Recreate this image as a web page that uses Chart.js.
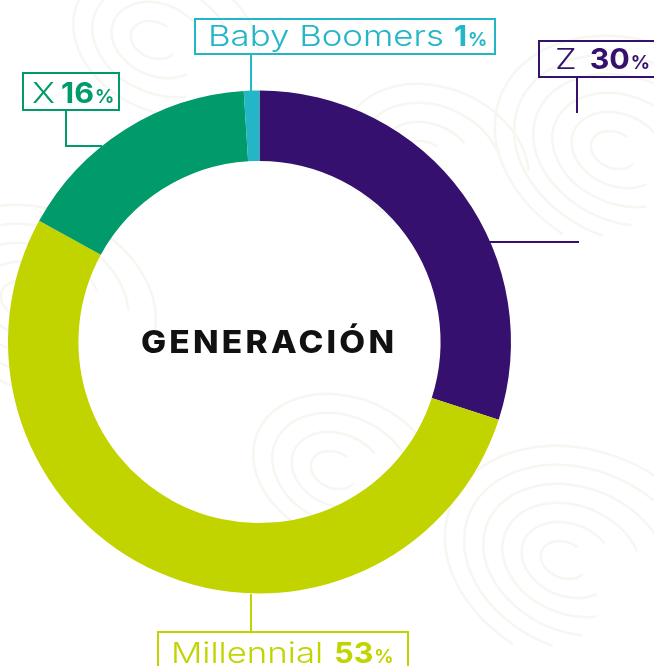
<!DOCTYPE html>
<html>
<head>
<meta charset="utf-8">
<script src="https://cdn.jsdelivr.net/npm/chart.js@4"></script>
<style>
  html, body { margin: 0; padding: 0; background: #fff; }
  #wrap { position: relative; width: 654px; height: 666px; }
</style>
</head>
<body>
<div id="wrap"><canvas id="chart"></canvas></div>
<script>
const labels = ['Z', 'Millennial', 'X', 'Baby Boomers'];
const values = [30, 53, 16, 1];
const colors = ['#36106e', '#c2d400', '#009a6b', '#23b6c7'];
const centerTitle = 'GENERACIÓN';

// callout boxes + leader lines (layout only)
const callouts = [
    { box: [539, 41, 130, 36], text: [555, 69], gap: 13, line: [[577, 77], [577, 113]], extra: [[490, 242], [579, 242]] },
    { box: [158, 632, 250, 50], text: [171, 663], gap: 11, line: [[251, 594], [251, 632]] },
    { box: [23, 73, 96, 37], text: [32, 103], gap: 6, line: [[66, 110], [66, 146], [102, 146]] },
    { box: [195, 19, 300, 35], text: [208, 46], gap: 10, line: [[251, 54], [251, 91]] }
];

const FONT = 'Inter, "Open Sans", sans-serif';

// faint swirl pattern behind everything
const swirls = [
    [610, 150, 6], [20, 300, 5], [560, 560, 6], [330, 470, 4], [150, 40, 4], [420, 160, 4]
];

const drawRich = (ctx, x, y, parts, color) => {
    ctx.fillStyle = color;
    ctx.textBaseline = 'alphabetic';
    ctx.textAlign = 'left';
    parts.forEach(p => {
        ctx.font = `${p.weight} ${p.size}px ${FONT}`;
        ctx.save();
        ctx.translate(x, y);
        ctx.scale(p.stretch, 1);
        ctx.fillText(p.text, 0, 0);
        ctx.restore();
        x += ctx.measureText(p.text).width * p.stretch + (p.gap || 0);
    });
};

const backgroundPlugin = {
    id: 'swirls',
    beforeDraw(chart) {
        const ctx = chart.ctx;
        ctx.save();
        ctx.strokeStyle = '#f5f7f0';
        ctx.lineWidth = 2.5;
        swirls.forEach(([sx, sy, n]) => {
            for (let k = 1; k <= n; k++) {
                ctx.beginPath();
                ctx.ellipse(sx + k * 4, sy, k * 24, k * 18, 0.4, 0.3 * k, Math.PI * 1.5 + 0.3 * k);
                ctx.stroke();
            }
        });
        ctx.restore();
    }
};

const calloutPlugin = {
    id: 'callouts',
    afterDraw(chart) {
        const ctx = chart.ctx;
        ctx.save();
        callouts.forEach((c, i) => {
            ctx.strokeStyle = colors[i];
            ctx.lineWidth = 2;
            ctx.strokeRect(c.box[0], c.box[1], c.box[2], c.box[3]);
            [c.line, c.extra].filter(Boolean).forEach(pts => {
                ctx.beginPath();
                ctx.moveTo(pts[0][0], pts[0][1]);
                pts.slice(1).forEach(p => ctx.lineTo(p[0], p[1]));
                ctx.stroke();
            });
            drawRich(ctx, c.text[0], c.text[1], [
                { text: labels[i], weight: 300, size: 29, stretch: 1.2, gap: c.gap },
                { text: String(values[i]), weight: 700, size: 29, stretch: 1.05, gap: 1 },
                { text: '%', weight: 700, size: 19, stretch: 1.0 }
            ], colors[i]);
        });

        // title in the hole
        const arc = chart.getDatasetMeta(0).data[0];
        ctx.font = `800 31px ${FONT}`;
        ctx.letterSpacing = '3px';
        ctx.fillStyle = '#111';
        ctx.textAlign = 'left';
        ctx.textBaseline = 'middle';
        const sx = 1.08;
        const w = (ctx.measureText(centerTitle).width - 3) * sx;
        ctx.translate(arc.x + 8 - w / 2, arc.y + 2);
        ctx.scale(sx, 1);
        ctx.fillText(centerTitle, 0, 0);
        ctx.restore();
    }
};

const chart = new Chart(document.getElementById('chart'), {
    type: 'doughnut',
    data: {
        labels: labels,
        datasets: [{
            data: values,
            backgroundColor: colors,
            borderWidth: 0
        }]
    },
    options: {
        responsive: true,
        maintainAspectRatio: false,
        animation: false,
        cutout: '72%',
        layout: { padding: { left: 8, right: 143, top: 90, bottom: 72 } },
        plugins: {
            legend: { display: false },
            tooltip: { enabled: false }
        }
    },
    plugins: [backgroundPlugin, calloutPlugin]
});
</script>
</body>
</html>
